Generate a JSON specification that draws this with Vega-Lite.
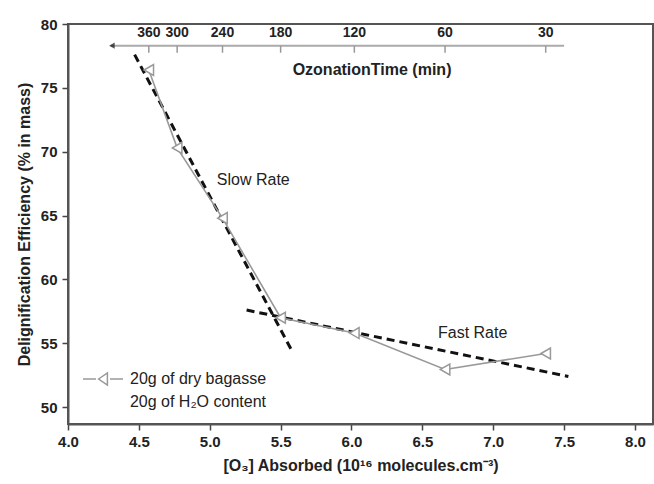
{
  "$schema": "https://vega.github.io/schema/vega-lite/v6.json",
  "autosize": "none",
  "padding": {"left": 68, "top": 24, "right": 1, "bottom": 60},
  "width": 585,
  "height": 400,
  "background": "white",
  "config": {
    "font": "Liberation Sans",
    "view": {"stroke": "#555", "strokeWidth": 2},
    "axis": {"domainColor": "#555", "domainWidth": 2, "tickColor": "#444", "tickWidth": 1.5, "labelFont": "Liberation Sans", "labelFontWeight": "bold", "labelFontSize": 15, "labelColor": "#222", "titleFont": "Liberation Sans", "titleFontWeight": "bold", "titleFontSize": 16, "titleColor": "#222", "grid": false, "labelOverlap": false, "labelFlush": false}
  },
  "datasets": {
    "points": [
      {"absorbed": 4.57, "efficiency": 76.4, "time": 360, "series": "20g of dry bagasse"},
      {"absorbed": 4.77, "efficiency": 70.3, "time": 300, "series": "20g of dry bagasse"},
      {"absorbed": 5.09, "efficiency": 64.8, "time": 240, "series": "20g of dry bagasse"},
      {"absorbed": 5.5, "efficiency": 57.0, "time": 180, "series": "20g of dry bagasse"},
      {"absorbed": 6.02, "efficiency": 55.8, "time": 120, "series": "20g of dry bagasse"},
      {"absorbed": 6.66, "efficiency": 52.95, "time": 60, "series": "20g of dry bagasse"},
      {"absorbed": 7.37, "efficiency": 54.2, "time": 30, "series": "20g of dry bagasse"}
    ],
    "fits": [
      {"rate": "slow", "absorbed": 4.47, "efficiency": 77.6},
      {"rate": "slow", "absorbed": 5.58, "efficiency": 54.4},
      {"rate": "fast", "absorbed": 5.26, "efficiency": 57.6},
      {"rate": "fast", "absorbed": 7.53, "efficiency": 52.4}
    ],
    "notes": [
      {"label": "Slow Rate", "absorbed": 5.05, "efficiency": 67.8},
      {"label": "Fast Rate", "absorbed": 6.61, "efficiency": 55.8}
    ]
  },
  "layer": [
    {
      "data": {"name": "fits"},
      "mark": {"type": "line", "color": "#111", "strokeWidth": 3, "strokeDash": [8, 5], "clip": true},
      "encoding": {
        "x": {"field": "absorbed", "type": "quantitative", "scale": {"domain": [4, 8.127], "nice": false, "zero": false},
          "axis": {
            "title": "[O₃] Absorbed (10¹⁶ molecules.cm⁻³)",
            "titlePadding": 8,
            "values": [4, 4.125, 4.25, 4.375, 4.5, 4.625, 4.75, 4.875, 5, 5.125, 5.25, 5.375, 5.5, 5.625, 5.75, 5.875, 6, 6.125, 6.25, 6.375, 6.5, 6.625, 6.75, 6.875, 7, 7.125, 7.25, 7.375, 7.5, 7.625, 7.75, 7.875, 8],
            "labelExpr": "abs(datum.value*2 - round(datum.value*2)) < 0.001 ? format(datum.value, '.1f') : ''",
            "tickSize": {"condition": {"test": "abs(datum.value*2 - round(datum.value*2)) < 0.001", "value": 6}, "value": 3},
            "labelPadding": 4
          }},
        "y": {"field": "efficiency", "type": "quantitative", "scale": {"domain": [48.68, 80], "nice": false, "zero": false},
          "axis": {
            "title": "Delignification Efficiency (% in mass)",
            "titlePadding": 8,
            "values": [50, 51.25, 52.5, 53.75, 55, 56.25, 57.5, 58.75, 60, 61.25, 62.5, 63.75, 65, 66.25, 67.5, 68.75, 70, 71.25, 72.5, 73.75, 75, 76.25, 77.5, 78.75, 80],
            "labelExpr": "abs(datum.value/5 - round(datum.value/5)) < 0.001 ? format(datum.value, 'd') : ''",
            "tickSize": {"condition": {"test": "abs(datum.value/5 - round(datum.value/5)) < 0.001", "value": 6}, "value": 3},
            "labelPadding": 5
          }},
        "detail": {"field": "rate"}
      }
    },
    {
      "data": {"name": "points"},
      "mark": {"type": "line", "color": "#aaa", "strokeWidth": 1.6},
      "encoding": {
        "x": {"field": "absorbed", "type": "quantitative"},
        "y": {"field": "efficiency", "type": "quantitative"},
        "color": {"field": "series", "type": "nominal", "scale": {"range": ["#999"]},
          "legend": {
            "orient": "bottom-left", "offset": 14, "padding": 0,
            "title": "20g of H₂O content", "titleOrient": "bottom", "titleAnchor": "end",
            "titleFont": "Liberation Sans", "titleFontWeight": "normal", "titleFontSize": 16, "titleColor": "#222", "titlePadding": 6,
            "labelFont": "Liberation Sans", "labelFontSize": 16, "labelColor": "#222", "labelOffset": 6,
            "symbolType": "M-1,0L-0.35,0M0.35,0L1,0M-0.22,0L0.22,-0.3L0.22,0.3Z",
            "symbolSize": 1600, "symbolStrokeWidth": 1.5, "symbolStrokeColor": "#999", "symbolFillColor": "transparent"
          }}
      }
    },
    {
      "data": {"name": "points"},
      "mark": {"type": "point", "shape": "triangle-left", "filled": false, "color": "#999", "fill": "white", "fillOpacity": 1, "strokeWidth": 1.5, "size": 120},
      "encoding": {
        "x": {"field": "absorbed", "type": "quantitative"},
        "y": {"field": "efficiency", "type": "quantitative"}
      }
    },
    {
      "data": {"name": "notes"},
      "mark": {"type": "text", "align": "left", "baseline": "middle", "fontSize": 16, "color": "#222", "font": "Liberation Sans"},
      "encoding": {
        "x": {"field": "absorbed", "type": "quantitative"},
        "y": {"field": "efficiency", "type": "quantitative"},
        "text": {"field": "label"}
      }
    },
    {
      "data": {"values": [{}]},
      "mark": {"type": "rule", "color": "#aaa", "strokeWidth": 2},
      "encoding": {
        "x": {"datum": 4.3},
        "x2": {"datum": 7.5},
        "y": {"datum": 78.3}
      }
    },
    {
      "data": {"values": [{}]},
      "mark": {"type": "point", "shape": "triangle-left", "filled": true, "color": "#111", "size": 40},
      "encoding": {
        "x": {"datum": 4.31},
        "y": {"datum": 78.3}
      }
    },
    {
      "data": {"name": "points"},
      "mark": {"type": "rule", "color": "#999", "strokeWidth": 1.5},
      "encoding": {
        "x": {"field": "absorbed", "type": "quantitative"},
        "y": {"datum": 78.3},
        "y2": {"datum": 77.75}
      }
    },
    {
      "data": {"name": "points"},
      "mark": {"type": "text", "align": "center", "baseline": "middle", "fontSize": 14, "fontWeight": "bold", "color": "#222", "font": "Liberation Sans"},
      "encoding": {
        "x": {"field": "absorbed", "type": "quantitative"},
        "y": {"datum": 79.3},
        "text": {"field": "time", "type": "quantitative"}
      }
    },
    {
      "data": {"values": [{"label": "OzonationTime (min)"}]},
      "mark": {"type": "text", "align": "center", "baseline": "middle", "fontSize": 16, "fontWeight": "bold", "color": "#222", "font": "Liberation Sans"},
      "encoding": {
        "x": {"datum": 6.145},
        "y": {"datum": 76.4},
        "text": {"field": "label"}
      }
    }
  ]
}
